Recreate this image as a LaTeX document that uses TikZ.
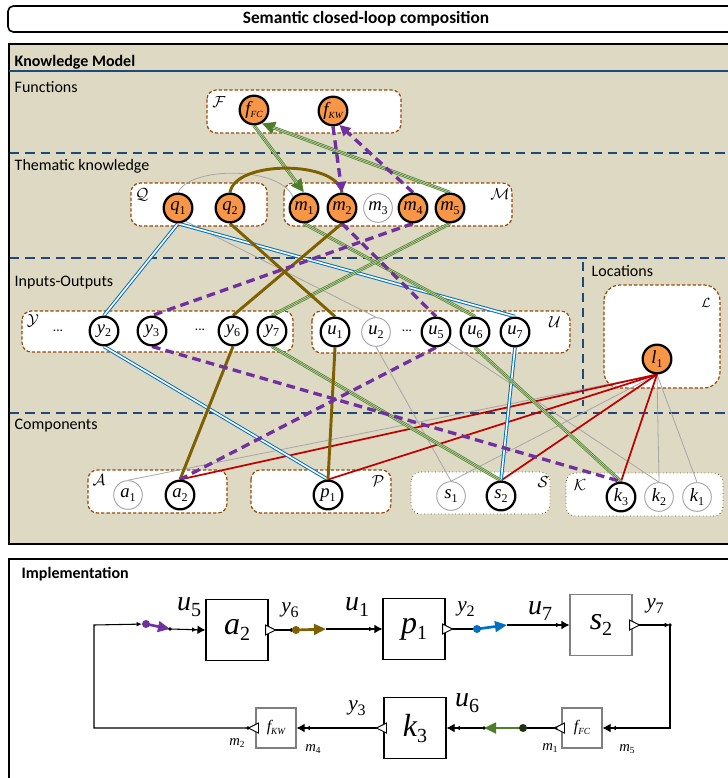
\documentclass[tikz,border=0pt]{standalone}
\usepackage{fontspec}
\setmainfont{Carlito}
\newfontfamily\tms{Liberation Serif}
\usetikzlibrary{arrows.meta,calc}
\definecolor{kmtan}{HTML}{DDD9C3}
\definecolor{sepblue}{HTML}{1F497D}
\definecolor{boxbrown}{HTML}{984807}
\definecolor{orng}{HTML}{F79646}
\definecolor{grn}{HTML}{4E7D2C}
\definecolor{grnl}{HTML}{C5DDB0}
\definecolor{blu}{HTML}{0070C0}
\definecolor{brn}{HTML}{7F6000}
\definecolor{prp}{HTML}{7030A0}
\definecolor{rd}{HTML}{C00000}
\definecolor{gry}{HTML}{A6A6A6}
\definecolor{dotgreen}{HTML}{4F6228}
\definecolor{dgray}{HTML}{7F7F7F}
\pgfdeclarelayer{back}
\pgfdeclarelayer{mid}
\pgfsetlayers{back,mid,main}
\newcommand\sv[4]{{\tms\fontsize{#1}{#1}\selectfont\itshape #3}{\tms\fontsize{#2}{#2}\selectfont\raisebox{-0.3em}{#4}}}
\newcommand\otriR[1]{\draw[fill=white,line width=0.7pt] ($(#1)+(-3,-5)$) -- ++(10,5) -- ++(-10,5) -- cycle;}
\newcommand\otriL[1]{\draw[fill=white,line width=0.7pt] ($(#1)+(3,-5)$) -- ++(-10,5) -- ++(10,5) -- cycle;}
\tikzset{
  x=0.75pt, y=-0.75pt,
  kn/.style={circle, minimum size=21.5pt, inner sep=0pt},
  on/.style={kn, draw=black, line width=1.7pt, fill=orng},
  io/.style={kn, draw=black, line width=1.7pt, fill=white},
  off/.style={kn, draw=gry, line width=0.7pt, fill=white},
  kbox/.style={draw=boxbrown, line width=0.9pt, dash pattern=on 2.5pt off 1.5pt, fill=white, rounded corners=7pt},
  sbox/.style={draw=dotgreen, line width=0.6pt, dotted, fill=white, rounded corners=7pt},
  sepl/.style={draw=sepblue, line width=1.5pt, dash pattern=on 7pt off 4.5pt},
  sect/.style={anchor=west, font=\fontsize{12}{14}\selectfont},
  head/.style={anchor=west, font=\bfseries\fontsize{12}{14}\selectfont},
  setl/.style={font=\fontsize{13}{13}\selectfont, inner sep=0pt},
  dots/.style={font=\fontsize{10}{10}\selectfont},
  grnT/.style={draw=grn, line width=2.6pt, postaction={draw=grnl, line width=1.5pt}, postaction={draw=grn, line width=0.45pt}},
  grnA/.style={draw=grn, line width=2.6pt, -{Triangle[length=10pt,width=9pt]},
     postaction={draw=grnl, line width=1.5pt, arrows=-, shorten >=9pt},
     postaction={draw=grn, line width=0.45pt, arrows=-, shorten >=9pt}},
  prpD/.style={draw=prp, line width=2.5pt, dash pattern=on 6.5pt off 4pt},
  prpA/.style={prpD, -{Triangle[length=8pt,width=8pt]}},
  bluD/.style={draw=blu, line width=0.75pt, double=white, double distance=1.2pt},
  brnL/.style={draw=brn, line width=2.2pt},
  rdL/.style={draw=rd, line width=1.3pt},
  gryL/.style={draw=gry, line width=0.6pt},
  blk/.style={draw=black, line width=0.8pt, fill=white, inner sep=0pt, minimum width=46.5pt, minimum height=45.5pt},
  gblk/.style={blk, draw=dgray},
  fblk/.style={draw=dgray, line width=0.8pt, fill=white, inner sep=0pt, minimum width=30pt, minimum height=30pt},
  wire/.style={line width=0.8pt},
  sarr/.style={-{Latex[length=4pt,width=3.5pt]}},
  inarr/.style={-{Latex[length=3.5pt,width=3.5pt,sep=0.5pt]Latex[length=6pt,width=6.5pt]}},
  implab/.style={inner sep=0pt}
}
\begin{document}
\begin{tikzpicture}
\useasboundingbox (0,0) rectangle (728,778);
\clip (0,0) rectangle (728,778);
\begin{pgfonlayer}{back}
\draw[line width=1.2pt, rounded corners=4pt, fill=white] (8,6) rectangle (760,32);
\draw[line width=1.8pt, fill=kmtan] (9,44) rectangle (760,544);
\draw[sepblue, line width=1.6pt] (9,71) -- (728,71);
\draw[sepl] (10,153) -- (728,153);
\draw[sepl] (10,258) -- (728,258);
\draw[sepl] (583,262) -- (583,406);
\draw[sepl] (10,413) -- (728,413);
\draw[kbox] (207,90) rectangle (401,133);
\draw[kbox] (131,183) rectangle (267,226);
\draw[kbox] (284,183) rectangle (512,226);
\draw[kbox] (22,311) rectangle (293,352);
\draw[kbox] (312,311) rectangle (570,353);
\draw[kbox, rounded corners=12pt] (604,285) rectangle (720,388);
\draw[kbox] (88,470) rectangle (227,513);
\draw[kbox] (251,470) rectangle (391,513);
\draw[sbox] (411,472) rectangle (550,514);
\draw[sbox] (566,473) rectangle (723,516);
\draw[line width=1.2pt, fill=white] (9,559) rectangle (760,800);
\end{pgfonlayer}

% texts
\node[font=\bfseries\fontsize{13}{15}\selectfont] (title) at (366,19) {Semantic closed-loop composition};
\node[head] (km) at (10,62) {Knowledge Model};
\node[sect] (tf) at (10,87) {Functions};
\node[sect] (tt) at (10,166) {Thematic knowledge};
\node[sect] (ti) at (10,283) {Inputs-Outputs};
\node[sect] (tc) at (10,426) {Components};
\node[sect] (tl) at (587,271) {Locations};
\node[head] (im) at (17,574) {Implementation};

% set labels
\node[setl] (sF) at (219,102) {$\mathcal{F}$};
\node[setl] (sQ) at (142,195) {$\mathcal{Q}$};
\node[setl] (sM) at (500,194) {$\mathcal{M}$};
\node[setl] (sY) at (33,321) {$\mathcal{Y}$};
\node[setl] (sU) at (555,322) {$\mathcal{U}$};
\node[setl, font=\fontsize{10}{10}\selectfont] (sL) at (706,303) {$\mathcal{L}$};
\node[setl] (sA) at (99,480) {$\mathcal{A}$};
\node[setl] (sP) at (378,481) {$\mathcal{P}$};
\node[setl] (sS) at (543,482) {$\mathcal{S}$};
\node[setl] (sK) at (580,485) {$\mathcal{K}$};
\node[dots] (d1) at (58,331) {...};
\node[dots] (d2) at (200,330) {...};
\node[dots] (d3) at (407,331) {...};

% knowledge nodes
\node[on] (fFC) at (254,110) {\sv{14}{7}{f}{\itshape FC}};
\node[on] (fKW) at (333,111) {\sv{14}{7}{f}{\itshape KW}};
\node[on] (q1) at (178,208) {\sv{14}{9}{q}{1}};
\node[on] (q2) at (230,208) {\sv{14}{9}{q}{2}};
\node[on] (m1) at (304,208) {\sv{14}{9}{m}{1}};
\node[on] (m2) at (342,208) {\sv{14}{9}{m}{2}};
\node[off] (m3) at (378,208) {\sv{14}{9}{m}{3}};
\node[on] (m4) at (413,208) {\sv{14}{9}{m}{4}};
\node[on] (m5) at (450,208) {\sv{14}{9}{m}{5}};
\node[io] (y2) at (104,331) {\sv{14}{9}{y}{2}};
\node[io] (y3) at (152,331) {\sv{14}{9}{y}{3}};
\node[io] (y6) at (233,331) {\sv{14}{9}{y}{6}};
\node[io] (y7) at (272,331) {\sv{14}{9}{y}{7}};
\node[io] (u1) at (335,332) {\sv{14}{9}{u}{1}};
\node[off] (u2) at (376,332) {\sv{14}{9}{u}{2}};
\node[io] (u5) at (436,332) {\sv{14}{9}{u}{5}};
\node[io] (u6) at (475,332) {\sv{14}{9}{u}{6}};
\node[io] (u7) at (515,332) {\sv{14}{9}{u}{7}};
\node[on] (l1) at (657,359) {\sv{14}{9}{l}{1}};
\node[off] (a1) at (128,495) {\sv{14}{9}{a}{1}};
\node[io] (a2) at (180,495) {\sv{14}{9}{a}{2}};
\node[io] (p1) at (328,495) {\sv{14}{9}{p}{1}};
\node[off] (s1) at (451,496) {\sv{14}{9}{s}{1}};
\node[io] (s2) at (501,496) {\sv{14}{9}{s}{2}};
\node[io] (k3) at (621,497) {\sv{14}{9}{k}{3}};
\node[off] (k2) at (659,497) {\sv{14}{9}{k}{2}};
\node[off] (k1) at (697,497) {\sv{14}{9}{k}{1}};

\begin{pgfonlayer}{mid}
% gray
\draw[gryL] (q1.north) .. controls (190,166) and (280,166) .. (m1.north west);
\draw[gryL] (q1.-60) -- (u2.north);
\draw[gryL] (u2.south) -- (s1.north);
\draw[gryL] (u5.-40) -- (k2.north);
\draw[gryL] (l1.south) -- (a1.north);
\draw[gryL] (l1.south) -- (s1.north);
\draw[gryL] (l1.south) -- (k2.north);
\draw[gryL] (l1.south) -- (k1.north);
% red
\draw[rdL] (l1.south) -- (a2.north);
\draw[rdL] (l1.south) -- (p1.north);
\draw[rdL] (l1.south) -- (s2.north);
\draw[rdL] (l1.south) -- (k3.north);
% blue
\draw[bluD] (q1.south) -- (y2.north);
\draw[bluD] (q1.south) -- (u7.north);
\draw[bluD] (y2.south) -- (p1.north);
\draw[bluD] (u7.south) -- (s2.north);
% green
\draw[grnT] (m1.south) -- (u6.north);
\draw[grnT] (m5.south) -- (y7.north);
\draw[grnT] (y7.south) -- (s2.north);
\draw[grnT] (u6.south) -- (k3.north);
\draw[grnA] (fFC.south) -- (m1.north);
\draw[grnA] (m5.north) -- (fFC.-60);
% brown
\draw[brnL] (q2.north) .. controls (235,160) and (337,160) .. (m2.north);
\draw[brnL] (q2.south) -- (u1.north);
\draw[brnL] (m2.south) -- (y6.north);
\draw[brnL] (y6.south) -- (a2.north);
\draw[brnL] (u1.south) -- (p1.north);
% purple
\draw[prpD] (m2.south) -- (u5.north);
\draw[prpD] (m4.south) -- (y3.north);
\draw[prpD] (u5.south) -- (a2.north);
\draw[prpD] (y3.south) -- (k3.north);
\draw[prpA] (fKW.south) -- (m2.north);
\draw[prpA] (m4.north) -- (fKW.-65);
\end{pgfonlayer}

% implementation blocks
\node[blk] (A2) at (237,630) {\sv{24}{15}{a}{2}};
\node[blk] (P1) at (414,629) {\sv{24}{15}{p}{1}};
\node[gblk] (S2) at (601,625) {\sv{24}{15}{s}{2}};
\node[blk] (K3) at (415,728) {\sv{24}{15}{k}{3}};
\node[fblk] (FFC) at (582,728) {\sv{12}{7}{f}{\itshape FC}};
\node[fblk] (FKW) at (276,728) {\sv{12}{7}{f}{\itshape KW}};

\coordinate (L1) at (94,728);
\coordinate (L2) at (94,625);
\coordinate (PD) at (146,624);
\coordinate (PT) at (170,629);
\coordinate (BRd) at (296,630);
\coordinate (BRt) at (326,629);
\coordinate (BLd) at (477,629);
\coordinate (BLt) at (507,625);
\coordinate (C1) at (670,625);
\coordinate (C2) at (670,728);
\coordinate (GD) at (523,728);
\coordinate (GT) at (484,728);
\coordinate (FD) at (556,728);
\coordinate (KD) at (248,728);

\draw[wire] (FKW.west) -- (KD);
\draw[wire, sarr, shorten >=3pt] (KD) -- (L1) -- (L2) -- (PD);
\draw[prp, line width=2pt, -{Triangle[length=9pt,width=8pt]}] (PD) -- (PT);
\fill[prp] (PD) circle (3pt);
\draw[wire, inarr] (PT) -- (A2.west);
\fill (PT) circle (1.4pt);
\draw[wire, sarr] (A2.east) -- (BRd);
\otriR{A2.east}
\draw[brn, line width=2pt, -{Triangle[length=9pt,width=8pt]}] (BRd) -- (BRt);
\fill[brn] (BRd) circle (3pt);
\draw[wire, inarr] (BRt) -- (P1.west);
\draw[wire] (P1.east) -- (BLd);
\otriR{P1.east}
\draw[blu, line width=2pt, -{Triangle[length=9pt,width=8pt]}] (BLd) -- (BLt);
\fill[blu] (BLd) circle (3pt);
\draw[wire, inarr] (BLt) -- (S2.west);
\draw[wire, sarr] (S2.east) -- (C1);
\otriR{S2.east}
\fill (C1) circle (1.4pt);
\draw[wire, inarr] (C1) -- (C2) -- (FFC.east);
\draw[wire] (FFC.west) -- (GD);
\otriL{FFC.west}
\fill (FD) circle (1.3pt);
\draw[grn, line width=2pt, -{Triangle[length=9pt,width=8pt]}] (GD) -- (GT);
\fill[black!60!grn] (GD) circle (3pt);
\fill (GT) circle (1.4pt);
\draw[wire, inarr] (GT) -- (K3.east);
\draw[wire, inarr] (K3.west) -- (FKW.east);
\otriL{K3.west}
\otriL{FKW.west}
\fill (KD) circle (1.4pt);

% implementation labels
\node[implab] (lu5) at (189,607) {\sv{21}{15}{u}{5}};
\node[implab] (ly6) at (290,610) {\sv{16}{12}{y}{6}};
\node[implab] (lu1) at (357,607) {\sv{21}{15}{u}{1}};
\node[implab] (ly2) at (466,609) {\sv{16}{12}{y}{2}};
\node[implab] (lu7) at (540,611) {\sv{21}{15}{u}{7}};
\node[implab] (ly7) at (655,606) {\sv{16}{12}{y}{7}};
\node[implab] (lu6) at (467,703) {\sv{21}{15}{u}{6}};
\node[implab] (ly3) at (357,708) {\sv{16}{12}{y}{3}};
\node[implab] (lm2) at (237,743) {\sv{11}{7}{m}{2}};
\node[implab] (lm4) at (313,749) {\sv{11}{7}{m}{4}};
\node[implab] (lm1) at (550,748) {\sv{11}{7}{m}{1}};
\node[implab] (lm5) at (627,749) {\sv{11}{7}{m}{5}};
\end{tikzpicture}
\end{document}
